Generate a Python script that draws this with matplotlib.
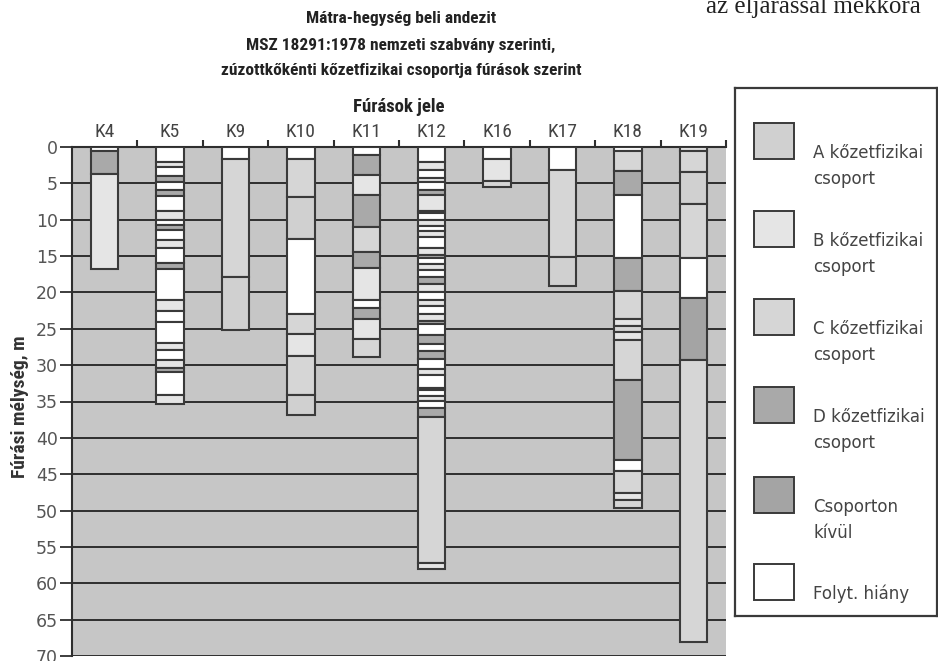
import matplotlib
matplotlib.use("Agg")
import matplotlib.pyplot as plt
from matplotlib.patches import Rectangle
from matplotlib.ticker import FixedLocator

# ---- data: borehole logs (depth boundaries in m, group code for each interval) ----
wells = ["K4", "K5", "K9", "K10", "K11", "K12", "K16", "K17", "K18", "K19"]

K4_bounds = [0, 0.6, 3.7, 16.8]
K4_groups = ["F", "D", "B"]

K5_bounds = [0, 2.0, 2.7, 4.0, 4.8, 5.9, 6.7, 8.8, 10.0, 10.7, 11.4, 12.8, 13.9,
             15.9, 16.8, 21.0, 22.5, 24.0, 27.0, 27.9, 29.3, 30.4, 31.0, 34.1, 35.3]
K5_groups = ["F", "B", "F", "D", "F", "D", "F", "B", "F", "D",
             "F", "B", "F", "D", "F", "B", "F", "F", "B", "F",
             "B", "D", "F", "B"]

K9_bounds = [0, 1.7, 17.9, 25.2]
K9_groups = ["F", "C", "A"]

K10_bounds = [0, 1.7, 6.9, 12.6, 22.9, 25.7, 28.7, 34.1, 36.9]
K10_groups = ["F", "C", "A", "F", "C", "B", "C", "A"]

K11_bounds = [0, 1.1, 3.9, 6.6, 11.0, 14.5, 16.7, 21.0, 22.1, 23.7, 26.4, 28.9]
K11_groups = ["F", "D", "B", "D", "C", "D", "B", "F", "D", "B", "C"]

K12_bounds = [0, 2.0, 3.1, 4.2, 4.8, 5.9, 6.6, 8.8, 9.1, 10.0, 10.8, 11.6, 12.4,
              13.9, 14.9, 15.3, 16.1, 16.9, 17.9, 18.9, 19.9, 21.0, 21.9, 22.9,
              23.9, 24.3, 25.9, 27.1, 28.1, 29.2, 30.5, 31.4, 33.1, 33.4, 34.2,
              34.9, 35.9, 37.1, 57.2, 58.1]
K12_groups = ["F", "B", "F", "B", "F", "D", "B", "D", "F", "B",
              "F", "B", "F", "B", "D", "F", "B", "F", "D", "B",
              "F", "B", "F", "B", "D", "F", "D", "F", "D", "F",
              "B", "F", "B", "F", "B", "F", "D", "C", "B"]

K16_bounds = [0, 1.7, 4.7, 5.5]
K16_groups = ["F", "B", "C"]

K17_bounds = [0, 3.2, 15.1, 19.1]
K17_groups = ["F", "C", "A"]

K18_bounds = [0, 0.6, 3.3, 6.6, 15.2, 19.8, 23.7, 24.6, 25.5, 26.5, 32.0, 43.1,
              44.5, 47.6, 48.5, 49.6]
K18_groups = ["F", "C", "D", "F", "D", "C", "B", "C", "B", "C", "D", "F", "C", "B", "C"]

K19_bounds = [0, 0.6, 3.5, 7.8, 15.2, 20.7, 29.3, 68.1]
K19_groups = ["B", "C", "A", "C", "F", "X", "C"]

depth_ticks = list(range(0, 75, 5))

group_codes = ["A", "B", "C", "D", "X", "F"]
group_labels = ["A kőzetfizikai\ncsoport", "B kőzetfizikai\ncsoport",
                "C kőzetfizikai\ncsoport", "D kőzetfizikai\ncsoport",
                "Csoporton\nkívül", "Folyt. hiány"]

title_lines = ["Mátra-hegység beli andezit",
               "MSZ 18291:1978 nemzeti szabvány szerinti,",
               "zúzottkőkénti kőzetfizikai csoportja fúrások szerint"]

# ---- styling ----
fill = {"A": "#d0d0d0", "B": "#e5e5e5", "C": "#d6d6d6",
        "D": "#a9a9a9", "X": "#a4a4a4", "F": "#ffffff"}
edge = "#3a3a3a"
narrow = ["Noto Sans Condensed", "DejaVu Sans Condensed", "Roboto Condensed",
          "Roboto", "DejaVu Sans"]
plain = ["DejaVu Sans"]

logs = [(K4_bounds, K4_groups), (K5_bounds, K5_groups), (K9_bounds, K9_groups),
        (K10_bounds, K10_groups), (K11_bounds, K11_groups), (K12_bounds, K12_groups),
        (K16_bounds, K16_groups), (K17_bounds, K17_groups), (K18_bounds, K18_groups),
        (K19_bounds, K19_groups)]

W, H = 938, 661
fig = plt.figure(figsize=(W / 100, H / 100), dpi=100)
fig.patch.set_facecolor("white")


def px_axes(x0, y0, x1, y1):
    return fig.add_axes([x0 / W, 1 - y1 / H, (x1 - x0) / W, (y1 - y0) / H])


ax = px_axes(72, 147, 726, 656)
ax.set_facecolor("#c6c6c6")
ax.set_xlim(0, len(wells))
ax.set_ylim(70, 0)

# horizontal depth lines
for d in depth_ticks[1:]:
    ax.axhline(d, color="#2e2e2e", lw=1.4, zorder=1)

# borehole columns
for i, (bounds, groups) in enumerate(logs):
    tops = bounds[:-1]
    heights = [b - t for t, b in zip(bounds[:-1], bounds[1:])]
    ax.bar([i + 0.5] * len(tops), heights, bottom=tops, width=0.42,
           color=[fill[g] for g in groups], edgecolor=edge, linewidth=1.5,
           zorder=3)

for side in ("right", "bottom"):
    ax.spines[side].set_visible(False)
for side in ("left", "top"):
    ax.spines[side].set_color("#2e2e2e")
    ax.spines[side].set_linewidth(1.5)

ax.xaxis.tick_top()
ax.set_xticks([i + 0.5 for i in range(len(wells))])
ax.set_xticklabels(wells, family=narrow, fontstretch="condensed", fontsize=14,
                   color="#444444")
ax.xaxis.set_minor_locator(FixedLocator(list(range(1, len(wells) + 1))))
ax.tick_params(axis="x", which="major", length=0, pad=4)
ax.tick_params(axis="x", which="minor", length=5, width=1.5, color="#2e2e2e",
               direction="out")
ax.set_xlabel("Fúrások jele", family=narrow, fontstretch="condensed",
              fontsize=13.5, fontweight="bold", color="#222222", labelpad=8)
ax.xaxis.set_label_position("top")

ax.set_yticks(depth_ticks)
ax.set_yticklabels([str(t) for t in depth_ticks], family=plain, fontsize=12.5,
                   color="#555555")
ax.tick_params(axis="y", length=9, width=1.3, color="#2e2e2e", pad=1)
ax.set_ylabel("Fúrási mélység, m", family=narrow, fontstretch="condensed",
              fontsize=14, fontweight="bold", color="#333333")
ax.yaxis.set_label_coords(-0.066, 0.49)

# title
for k, line in enumerate(title_lines):
    fig.text(401 / W, 1 - (19 + 26 * k) / H, line, ha="center", va="center",
             family=narrow, fontstretch="condensed", fontsize=12.5,
             fontweight="bold", color="#222222")

# running text of the page above the figure
fig.text(706 / W, 1 - 13 / H, "az eljárással mekkora", ha="left",
         va="baseline", family=["Liberation Serif", "DejaVu Serif"],
         fontsize=18, color="#222222")

# legend panel
lg = px_axes(735, 88, 937, 616)
lg.set_xlim(735, 937)
lg.set_ylim(616, 88)
lg.set_xticks([])
lg.set_yticks([])
lg.set_facecolor("white")
for s in lg.spines.values():
    s.set_color("#3a3a3a")
    s.set_linewidth(1.6)

square_tops = [123, 211, 299, 387, 477, 564]
for code, label, top in zip(group_codes, group_labels, square_tops):
    lg.add_patch(Rectangle((754, top), 40, 36, facecolor=fill[code],
                           edgecolor=edge, linewidth=1.4))
    cy = top + 18 + 12
    for j, part in enumerate(label.split("\n")):
        lg.text(813, cy + 26 * j, part, ha="left", va="center", family=plain,
                fontsize=12, color="#444444")

fig.savefig("out.png", dpi=100)
